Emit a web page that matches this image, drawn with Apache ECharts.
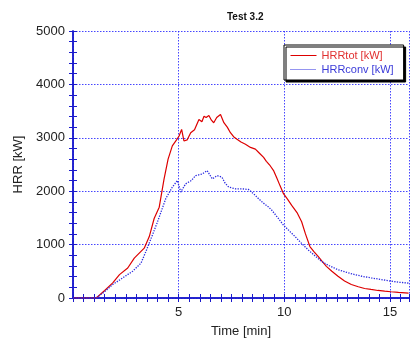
<!DOCTYPE html>
<html>
<head>
<meta charset="utf-8">
<script src="https://cdn.jsdelivr.net/npm/echarts@6/dist/echarts.min.js"></script>
<style>
  html, body { margin: 0; padding: 0; background: #fff; }
  #chart { width: 412px; height: 343px; }
</style>
</head>
<body>
<div id="chart"></div>
<script>
// HRRtot [kW] (red, solid)
const totTime = [0, 1.0, 1.1, 1.5, 1.88, 2.2, 2.59, 2.9, 3.37, 3.61, 3.84, 4.08, 4.31, 4.5, 4.7, 4.9, 5.02, 5.14, 5.25, 5.4, 5.57, 5.75, 5.96, 6.1, 6.2, 6.3, 6.43, 6.55, 6.66, 6.8, 6.98, 7.14, 7.3, 7.45, 7.6, 7.76, 7.95, 8.16, 8.4, 8.63, 8.8, 9.02, 9.15, 9.33, 9.5, 9.64, 9.8, 9.96, 10.15, 10.35, 10.6, 10.82, 11.0, 11.21, 11.4, 11.6, 11.8, 11.99, 12.25, 12.54, 12.85, 13.17, 13.5, 13.8, 14.1, 14.43, 14.75, 15.05, 15.4, 15.88];
const totVal = [0, 0, 0, 140, 284, 438, 562, 747, 933, 1150, 1489, 1700, 2230, 2600, 2848, 2960, 3034, 3158, 2941, 2960, 3096, 3150, 3343, 3300, 3405, 3380, 3417, 3330, 3282, 3380, 3436, 3282, 3200, 3096, 3020, 2972, 2920, 2880, 2820, 2787, 2720, 2633, 2560, 2477, 2380, 2250, 2100, 1953, 1850, 1736, 1600, 1428, 1200, 964, 870, 779, 680, 593, 500, 408, 320, 252, 210, 178, 160, 141, 128, 117, 105, 93];

// HRRconv [kW] (blue, dotted)
const convTime = [0, 1.1, 1.5, 1.88, 2.35, 2.82, 3.22, 3.45, 3.76, 4.0, 4.39, 4.7, 4.94, 5.1, 5.33, 5.6, 5.8, 6.1, 6.35, 6.59, 6.82, 7.05, 7.2, 7.37, 7.69, 8.0, 8.31, 8.55, 8.78, 9.0, 9.25, 9.41, 9.7, 9.96, 10.25, 10.51, 10.8, 11.13, 11.45, 11.76, 12.15, 12.54, 12.95, 13.33, 13.7, 14.11, 14.6, 15.05, 15.45, 15.88];
const convVal = [0, 0, 120, 252, 376, 500, 655, 871, 1180, 1428, 1860, 2077, 2200, 1984, 2138, 2200, 2292, 2320, 2385, 2231, 2292, 2262, 2150, 2077, 2045, 2045, 2032, 1950, 1860, 1780, 1706, 1643, 1500, 1365, 1250, 1150, 1030, 901, 790, 686, 600, 530, 480, 438, 405, 376, 345, 315, 295, 278];

const xTicks = [5, 10, 15];
const seriesNames = ['HRRtot [kW]', 'HRRconv [kW]'];

const RED = '#dd0000';
const BLUE = '#2a2ae0';
const AXIS_BLUE = '#1a1acc';
const GRID_BLUE = '#2626ff';
const FONT = 'Arial, "Liberation Sans", sans-serif';

const chart = echarts.init(document.getElementById('chart'), null, { renderer: 'canvas' });

// 坐标轴公共样式
const tickIn = { show: true, inside: true, length: 4, lineStyle: { color: AXIS_BLUE, width: 1 } };
const lineAx = { show: true, lineStyle: { color: AXIS_BLUE, width: 1.5 } };
const gridLine = { show: true, lineStyle: { color: GRID_BLUE, type: [1.5, 1.5], width: 1, opacity: 0.85 } };

const option = {
  animation: false,
  backgroundColor: '#fff',
  title: {
    text: 'Test 3.2',
    left: 222,
    top: 7,
    textStyle: { fontFamily: FONT, fontSize: 10, fontWeight: 'bold', color: '#111' }
  },
  legend: {
    orient: 'vertical',
    left: 284,
    top: 45,
    padding: [5, 10, 5, 6],
    itemWidth: 26,
    itemHeight: 8,
    itemGap: 3,
    backgroundColor: '#fff',
    borderColor: '#000',
    borderWidth: 1,
    shadowColor: '#000',
    shadowBlur: 0,
    shadowOffsetX: 2,
    shadowOffsetY: 2,
    itemStyle: { color: 'transparent', borderWidth: 0, opacity: 0 },
    textStyle: { fontFamily: FONT, fontSize: 11 },
    data: [
      {
        name: seriesNames[0],
        lineStyle: { color: RED, width: 1, type: 'solid' },
        textStyle: { color: '#e03030' }
      },
      {
        name: seriesNames[1],
        lineStyle: { color: BLUE, width: 1, type: 'dotted' },
        textStyle: { color: '#3a3ad8' }
      }
    ]
  },
  grid: { left: 73, right: 1, top: 31, bottom: 43 },
  xAxis: [
    {
      type: 'value',
      min: 0,
      max: 15.9,
      interval: 5,
      name: 'Time [min]',
      nameLocation: 'middle',
      nameGap: 27,
      nameTextStyle: { fontFamily: FONT, fontSize: 13, color: '#222' },
      axisLine: lineAx,
      axisTick: tickIn,
      minorTick: { show: true, splitNumber: 10, length: 4, lineStyle: { color: AXIS_BLUE } },
      axisLabel: {
        fontFamily: FONT, fontSize: 13, color: '#222', margin: 8,
        formatter: v => (xTicks.indexOf(v) >= 0 ? String(v) : '')
      },
      splitLine: gridLine
    },
    {
      type: 'value',
      position: 'top',
      min: 0,
      max: 15.9,
      interval: 5,
      axisLine: lineAx,
      axisTick: tickIn,
      minorTick: { show: true, splitNumber: 10, length: 4, lineStyle: { color: AXIS_BLUE } },
      axisLabel: { show: false },
      splitLine: { show: false }
    }
  ],
  yAxis: [
    {
      type: 'value',
      min: 0,
      max: 5000,
      interval: 1000,
      name: 'HRR [kW]',
      nameLocation: 'middle',
      nameGap: 47,
      nameTextStyle: { fontFamily: FONT, fontSize: 13, color: '#222' },
      axisLine: lineAx,
      axisTick: tickIn,
      minorTick: { show: true, splitNumber: 5, length: 4, lineStyle: { color: AXIS_BLUE } },
      axisLabel: { fontFamily: FONT, fontSize: 13, color: '#222', margin: 8, formatter: v => String(v) },
      splitLine: gridLine
    },
    {
      type: 'value',
      position: 'right',
      min: 0,
      max: 5000,
      interval: 1000,
      axisLine: lineAx,
      axisTick: tickIn,
      minorTick: { show: true, splitNumber: 5, length: 4, lineStyle: { color: AXIS_BLUE } },
      axisLabel: { show: false },
      splitLine: { show: false }
    }
  ],
  series: [
    {
      name: seriesNames[0],
      type: 'line',
      symbol: 'none',
      data: totTime.map((t, i) => [t, totVal[i]]),
      lineStyle: { color: RED, width: 1.2 },
      itemStyle: { color: RED }
    },
    {
      name: seriesNames[1],
      type: 'line',
      symbol: 'none',
      data: convTime.map((t, i) => [t, convVal[i]]),
      lineStyle: { color: BLUE, width: 1.3, type: 'dotted' },
      itemStyle: { color: BLUE }
    }
  ]
};

chart.setOption(option);
</script>
</body>
</html>
